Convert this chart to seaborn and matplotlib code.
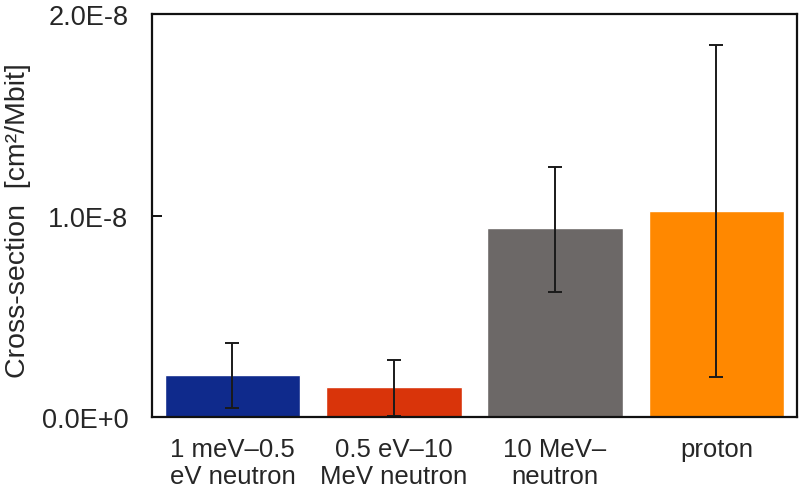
import numpy as np
import pandas as pd
import matplotlib.pyplot as plt
import seaborn as sns

# values (cm2/Mbit)
categories = ["1 meV\u20130.5\neV neutron", "0.5 eV\u201310\nMeV neutron", "10 MeV\u2013\nneutron", "proton"]
cross_section = [2.1e-9, 1.5e-9, 9.4e-9, 10.25e-9]
err_low = [0.45e-9, 0.05e-9, 6.2e-9, 2.0e-9]
err_high = [3.7e-9, 2.85e-9, 12.4e-9, 18.45e-9]
colors = ["#0F2A8C", "#D9340A", "#6C6867", "#FF8800"]

df = pd.DataFrame({"kind": categories, "xs": cross_section})

sns.set_style("white")
plt.rcParams["font.family"] = ["Liberation Sans", "DejaVu Sans"]

fig = plt.figure(figsize=(7.99, 4.89), dpi=100)
ax = fig.add_axes([0.190, 0.145, 0.8075, 0.824])

sns.barplot(data=df, x="kind", y="xs", hue="kind", palette=colors,
            width=0.84, legend=False, ax=ax, saturation=1)

vals = np.array(cross_section)
yerr = [vals - np.array(err_low), np.array(err_high) - vals]
ax.errorbar(np.arange(len(categories)), vals, yerr=yerr, fmt="none",
            ecolor="#1a1a1a", elinewidth=1.4, capsize=5, capthick=1.4)

ax.set_ylim(0, 2.0e-8)
ax.set_xlim(-0.5, 3.5)
ax.set_yticks([0, 1.0e-8, 2.0e-8])
ax.set_yticklabels(["0.0E+0", "1.0E-8", "2.0E-8"], fontsize=19.5)
ax.tick_params(axis="y", left=True, direction="in", length=7, width=1.4,
               color="#111111", pad=17)
ax.tick_params(axis="x", length=0, pad=14, labelsize=18.5)
for lab in ax.get_xticklabels():
    lab.set_linespacing(1.2)
ax.set_xlabel("")
ax.set_ylabel("Cross-section  [cm\u00b2/Mbit]", fontsize=20.5, va="baseline")
ax.yaxis.set_label_coords(-0.196, 0.49)

for s in ax.spines.values():
    s.set_color("#111111")
    s.set_linewidth(1.6)

fig.savefig("out.png", dpi=100)
